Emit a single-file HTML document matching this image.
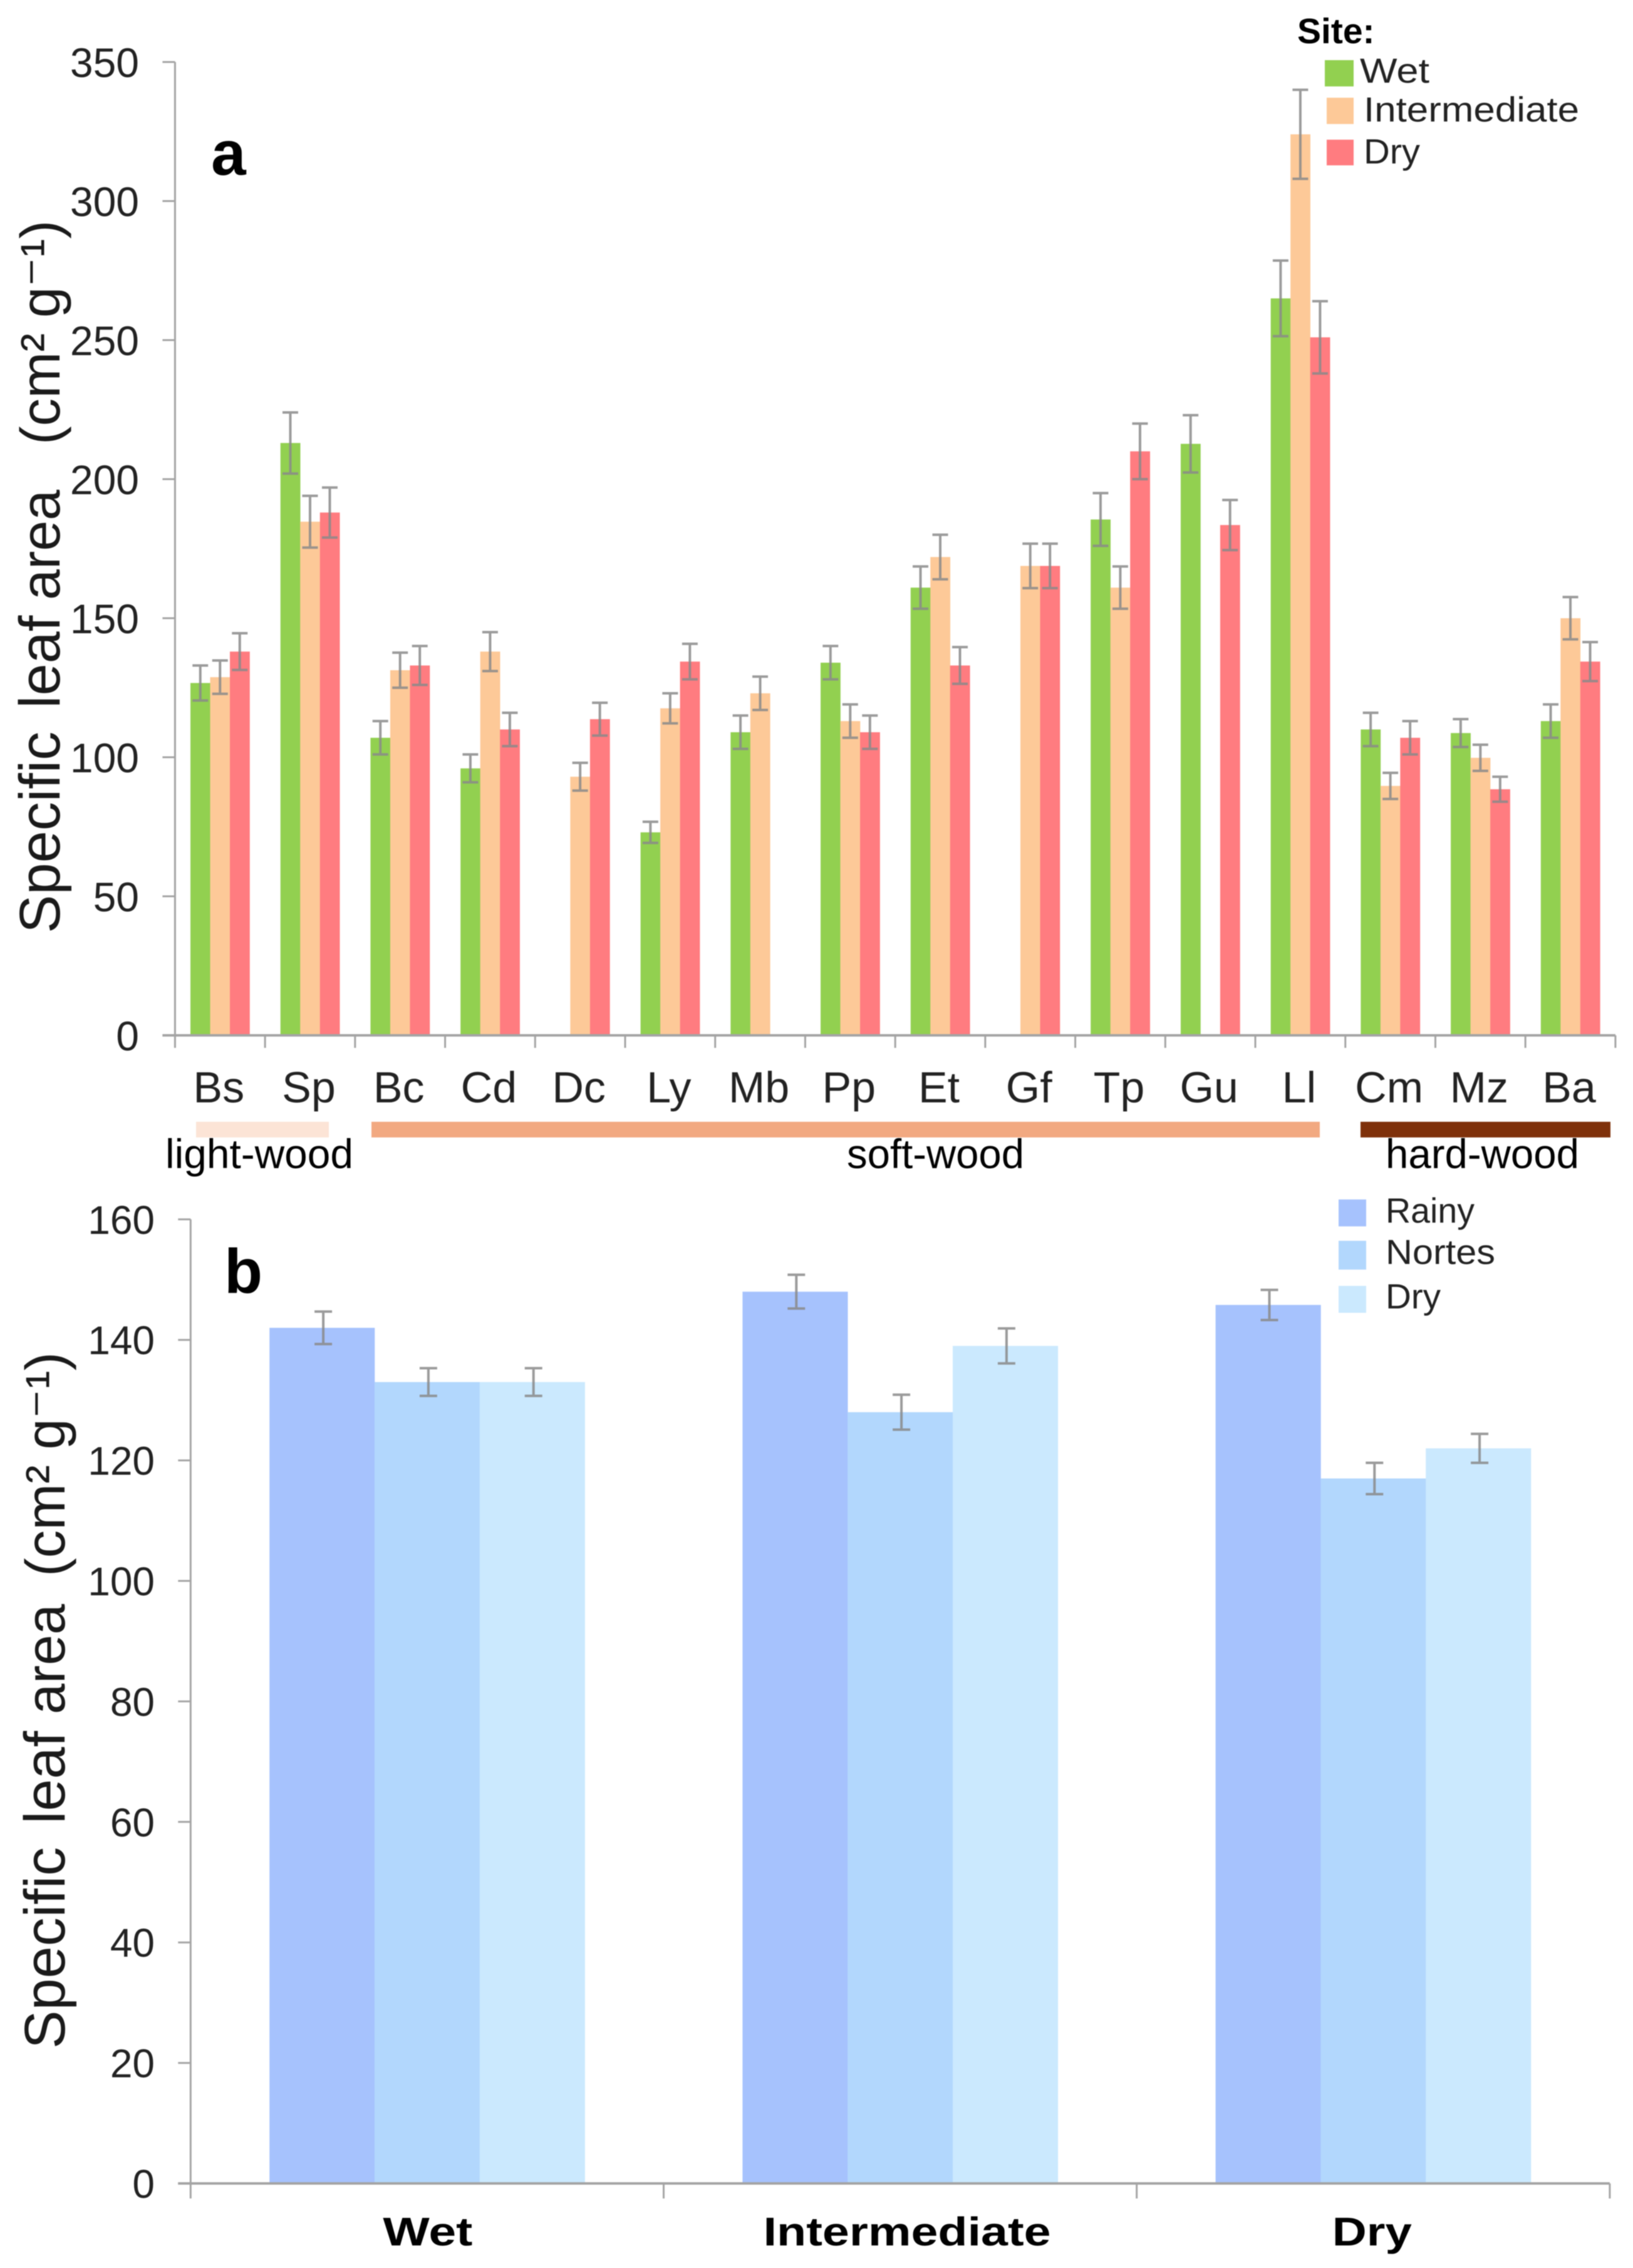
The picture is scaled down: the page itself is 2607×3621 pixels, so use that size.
<!DOCTYPE html>
<html lang="en">
<head>
<meta charset="utf-8">
<title>Specific leaf area by species and site</title>
<style>
html,body{margin:0;padding:0;background:#fff;width:2607px;height:3621px;overflow:hidden}
svg{display:block;font-family:"Liberation Sans",Arial,sans-serif;filter:blur(0.9px)}
</style>
</head>
<body>
<svg id="figure" xmlns="http://www.w3.org/2000/svg" width="2607" height="3621" viewBox="0 0 2607 3621">
  <rect x="0" y="0" width="2607" height="3621" fill="#fff"/>
  <g id="panel-a"></g>
  <g id="panel-b"></g>

  <text x="337" y="279" font-size="100" font-weight="700" fill="#000">a</text>
  <text x="358" y="2064" font-size="100" font-weight="700" fill="#000">b</text>

  <text transform="translate(95 1490) rotate(-90)" font-size="92" fill="#1a1a1a"><tspan x="0">Specific </tspan><tspan x="359">leaf </tspan><tspan x="532" font-size="88">area </tspan><tspan x="780" font-size="89">(cm² g⁻¹)</tspan></text>
  <text transform="translate(103 3271) rotate(-90)" font-size="92" fill="#1a1a1a"><tspan x="0">Specific </tspan><tspan x="359">leaf </tspan><tspan x="534" font-size="88">area </tspan><tspan x="754" font-size="89">(cm² g⁻¹)</tspan></text>

  <rect x="313" y="1791" width="212" height="25" fill="#fce4d6"/>
  <rect x="593" y="1791" width="1514" height="25" fill="#f2a981"/>
  <rect x="2172" y="1791" width="399" height="25" fill="#7f310b"/>
  <text x="264" y="1865" font-size="66" fill="#000" textLength="300" lengthAdjust="spacingAndGlyphs">light-wood</text>
  <text x="1352" y="1865" font-size="66" fill="#000" textLength="283" lengthAdjust="spacingAndGlyphs">soft-wood</text>
  <text x="2212" y="1865" font-size="66" fill="#000" textLength="309" lengthAdjust="spacingAndGlyphs">hard-wood</text>

  <g>
    <text x="2071" y="69" font-size="57" font-weight="700" fill="#000">Site:</text>
    <rect x="2115" y="96" width="46" height="42" fill="#92d050"/>
    <text x="2171" y="132" font-size="56" fill="#222" textLength="111" lengthAdjust="spacingAndGlyphs">Wet</text>
    <rect x="2118" y="156" width="43" height="42" fill="#fdc998"/>
    <text x="2177" y="194" font-size="56" fill="#222" textLength="344" lengthAdjust="spacingAndGlyphs">Intermediate</text>
    <rect x="2118" y="223" width="43" height="41" fill="#ff7c80"/>
    <text x="2177" y="261" font-size="56" fill="#222" textLength="90" lengthAdjust="spacingAndGlyphs">Dry</text>
  </g>

  <g>
    <rect x="2137" y="1915" width="44" height="43" fill="#a6c2fd"/>
    <text x="2212" y="1952" font-size="56" fill="#222" textLength="142" lengthAdjust="spacingAndGlyphs">Rainy</text>
    <rect x="2137" y="1981" width="44" height="46" fill="#b2d7fd"/>
    <text x="2212" y="2018" font-size="56" fill="#222" textLength="175" lengthAdjust="spacingAndGlyphs">Nortes</text>
    <rect x="2137" y="2053" width="44" height="43" fill="#cbe9fe"/>
    <text x="2212" y="2089" font-size="56" fill="#222" textLength="88" lengthAdjust="spacingAndGlyphs">Dry</text>
  </g>
</svg>

<script>
// Panel a data
const speciesCategories = ['Bs','Sp','Bc','Cd','Dc','Ly','Mb','Pp','Et','Gf','Tp','Gu','Ll','Cm','Mz','Ba'];
const siteWetValues = [126.7,213,107,96,null,73,109,134,161,null,185.5,212.7,265,110,108.7,113];
const siteIntermediateValues = [128.8,184.7,131.3,138,93,117.6,123,113,172,168.8,161,null,324,89.7,99.8,150];
const siteDryValues = [138,188,133,110,113.7,134.4,null,109,133,168.8,210,183.5,251,107,88.5,134.4];
const siteWetErrors = [6.3,11,6,5,null,3.8,6,6,7.6,null,9.5,10.3,13.6,6,5,6];
const siteIntermediateErrors = [6,9.3,6.3,7,5,5.4,6,6,8,8,7.6,null,16,4.7,4.7,7.6];
const siteDryErrors = [6.6,9,7,6,5.9,6.4,null,6,6.6,8,10,9,13,6,4.5,7];
const panelATickLabels = [0,50,100,150,200,250,300,350];

// Panel b data
const siteCategories = ['Wet','Intermediate','Dry'];
const seasonRainyValues = [142,148,145.8];
const seasonNortesValues = [133,128,117];
const seasonDryValues = [133,139,122];
const seasonRainyErrors = [2.7,2.8,2.5];
const seasonNortesErrors = [2.3,2.9,2.6];
const seasonDryErrors = [2.3,2.9,2.4];
const panelBTickLabels = [0,20,40,60,80,100,120,140,160];

const NS = 'http://www.w3.org/2000/svg';
const AXIS = '#a4a4a4';
const INK = '#222';

// Axis functions
const yA = v => 1653 - v * 4.44;
const xA = i => 279.4 + i * 143.72;
const yB = v => 3486 - v * 9.62;
const xB = i => 304.3 + i * 755.2;

function make(parent, tag, attrs, text) {
  const el = document.createElementNS(NS, tag);
  for (const k in attrs) el.setAttribute(k, attrs[k]);
  if (text !== undefined) el.textContent = text;
  parent.appendChild(el);
  return el;
}

function drawBar(parent, x, w, yTop, yBase, fill) {
  const el = make(parent, 'rect', {x: x, y: yTop, width: w, height: yBase - yTop, fill: fill});
  
  
}

function drawError(parent, cx, yHi, yLo, cap) {
  const g = make(parent, 'g', {stroke: '#8a8a8a', 'stroke-width': 4, opacity: 0.85, fill: 'none'});
  
  
  make(g, 'line', {x1: cx, x2: cx, y1: yHi, y2: yLo});
  make(g, 'line', {x1: cx - cap / 2, x2: cx + cap / 2, y1: yHi, y2: yHi});
  make(g, 'line', {x1: cx - cap / 2, x2: cx + cap / 2, y1: yLo, y2: yLo});
}

function drawAxisLine(parent, x1, y1, x2, y2, w) {
  const el = make(parent, 'line', {x1: x1, y1: y1, x2: x2, y2: y2, stroke: AXIS, 'stroke-width': w});
  
  
}

function drawTick(parent, x1, y1, x2, y2) {
  const el = make(parent, 'line', {x1: x1, y1: y1, x2: x2, y2: y2, stroke: AXIS, 'stroke-width': 3});
  
  
}

function drawTickLabel(parent, x, y, size, anchor, text) {
  const el = make(parent, 'text', {x: x, y: y, 'font-size': size, 'text-anchor': anchor, fill: INK}, text);
  
  
  return el;
}

// ---- Panel a ----
const panelA = document.getElementById('panel-a');
const seriesA = [
  {values: siteWetValues, errors: siteWetErrors, fill: '#92d050'},
  {values: siteIntermediateValues, errors: siteIntermediateErrors, fill: '#fdc998'},
  {values: siteDryValues, errors: siteDryErrors, fill: '#ff7c80'}
];
const barWA = 31.5;
seriesA.forEach((s, si) => {
  s.values.forEach((v, i) => {
    if (v === null) return;
    const left = xA(i + 0.5) + (si - 1.5) * barWA;
    drawBar(panelA, left, barWA + 0.3, yA(v), yA(0), s.fill);
  });
});
seriesA.forEach((s, si) => {
  s.values.forEach((v, i) => {
    if (v === null || s.errors[i] === null) return;
    const cx = xA(i + 0.5) + (si - 1) * barWA;
    drawError(panelA, cx, yA(v + s.errors[i]), yA(v - s.errors[i]), 25);
  });
});
drawAxisLine(panelA, xA(0), yA(350), xA(0), yA(0) + 20, 3);
drawAxisLine(panelA, xA(0) - 20, yA(0), xA(speciesCategories.length), yA(0), 4);
panelATickLabels.forEach(t => {
  drawTick(panelA, xA(0) - 20, yA(t), xA(0), yA(t));
  drawTickLabel(panelA, 222, yA(t) + 24, 66, 'end', String(t));
});
speciesCategories.forEach((c, i) => {
  drawTick(panelA, xA(i + 1), yA(0), xA(i + 1), yA(0) + 20);
  drawTickLabel(panelA, xA(i + 0.5) - 2, 1760, 70, 'middle', c);
});

// ---- Panel b ----
const panelB = document.getElementById('panel-b');
const seriesB = [
  {values: seasonRainyValues, errors: seasonRainyErrors, fill: '#a6c2fd'},
  {values: seasonNortesValues, errors: seasonNortesErrors, fill: '#b2d7fd'},
  {values: seasonDryValues, errors: seasonDryErrors, fill: '#cbe9fe'}
];
const barWB = 167.8;
seriesB.forEach((s, si) => {
  s.values.forEach((v, i) => {
    const left = xB(i + 0.5) + (si - 1.5) * barWB;
    drawBar(panelB, left, barWB + 0.3, yB(v), yB(0), s.fill);
  });
});
seriesB.forEach((s, si) => {
  s.values.forEach((v, i) => {
    const cx = xB(i + 0.5) + (si - 1) * barWB + 2;
    drawError(panelB, cx, yB(v + s.errors[i]), yB(v - s.errors[i]), 28);
  });
});
drawAxisLine(panelB, xB(0), yB(160), xB(0), yB(0) + 24, 3);
drawAxisLine(panelB, xB(0) - 20, yB(0), xB(siteCategories.length), yB(0), 4);
panelBTickLabels.forEach(t => {
  drawTick(panelB, xB(0) - 20, yB(t), xB(0), yB(t));
  drawTickLabel(panelB, 247, yB(t) + 23, 64, 'end', String(t));
});
const catWidths = {Wet: 143, Intermediate: 459, Dry: 127};
const catNudges = {Wet: 1, Intermediate: 11, Dry: -2};
siteCategories.forEach((c, i) => {
  drawTick(panelB, xB(i + 1), yB(0), xB(i + 1), yB(0) + 24);
  const el = make(panelB, 'text', {
    x: xB(i + 0.5) + catNudges[c], y: 3585, 'font-size': 64, 'font-weight': 700,
    'text-anchor': 'middle', fill: '#000',
    textLength: catWidths[c], lengthAdjust: 'spacingAndGlyphs'
  }, c);
  
  
});
</script>
</body>
</html>
